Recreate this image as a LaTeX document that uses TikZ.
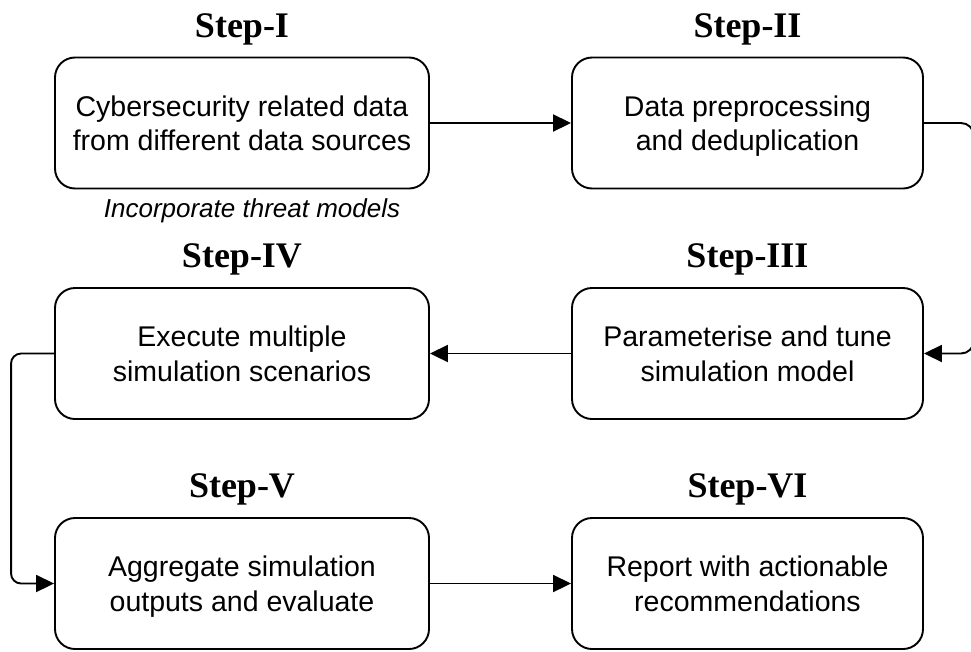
\documentclass[tikz,border=0pt]{standalone}
\usepackage{fontspec}
\setmainfont{Liberation Sans}
\newfontfamily\titlefont{Liberation Serif}
\usetikzlibrary{arrows.meta}
% fixed line metrics so every two-line label sits at the same height
\newcommand\topstrut{\rule{0pt}{27.5pt}}
\newcommand\botstrut{\rule[-7pt]{0pt}{7pt}}
\newcommand\twolines[2]{\topstrut#1\\#2\botstrut}
\begin{document}
\begin{tikzpicture}[x=1pt,y=-1pt,
  box/.style={draw, line width=1.9pt, rounded corners=20pt, minimum height=131pt,
    align=center, inner sep=0pt, font=\fontsize{28.5}{34.5}\selectfont},
  leftbox/.style={box, minimum width=374pt},
  rightbox/.style={box, minimum width=351pt},
  steptitle/.style={anchor=base, inner sep=0pt, font=\titlefont\bfseries\fontsize{36}{42}\selectfont},
  conn/.style={line width=1.9pt, -{Triangle[length=18pt,width=17pt]}},
  note/.style={anchor=base, inner sep=0pt, font=\itshape\fontsize{26}{30}\selectfont}]
\useasboundingbox (0,0) rectangle (971,651);

% process boxes
\node[leftbox]  (s1) at (242,123)     {\twolines{Cybersecurity related data}{from different data sources}};
\node[rightbox] (s2) at (747.5,123)   {\twolines{Data preprocessing}{and deduplication}};
\node[rightbox] (s3) at (747.5,353.5) {\twolines{Parameterise and tune}{simulation model}};
\node[leftbox]  (s4) at (242,353.5)   {\twolines{Execute multiple}{simulation scenarios}};
\node[leftbox]  (s5) at (242,583.5)   {\twolines{Aggregate simulation}{outputs and evaluate}};
\node[rightbox] (s6) at (747.5,583.5) {\twolines{Report with actionable}{recommendations}};

% step titles
\node[steptitle] (t1) at (242,37)    {Step-I};
\node[steptitle] (t2) at (747.5,37)  {Step-II};
\node[steptitle] (t3) at (747.5,267) {Step-III};
\node[steptitle] (t4) at (242,267)   {Step-IV};
\node[steptitle] (t5) at (242,497)   {Step-V};
\node[steptitle] (t6) at (747.5,497) {Step-VI};

% annotation under the first box
\node[note] (n1) at (252,217) {Incorporate threat models};

% flow
\draw[conn] (s1.east) -- (s2.west);
\draw[conn, rounded corners=13pt] (s2.east) -- ++(50,0) |- (s3.east);
\draw[conn] (s3.west) -- (s4.east);
\draw[conn, rounded corners=10pt] (s4.west) -- ++(-43,0) |- (s5.west);
\draw[conn] (s5.east) -- (s6.west);
\end{tikzpicture}
\end{document}
